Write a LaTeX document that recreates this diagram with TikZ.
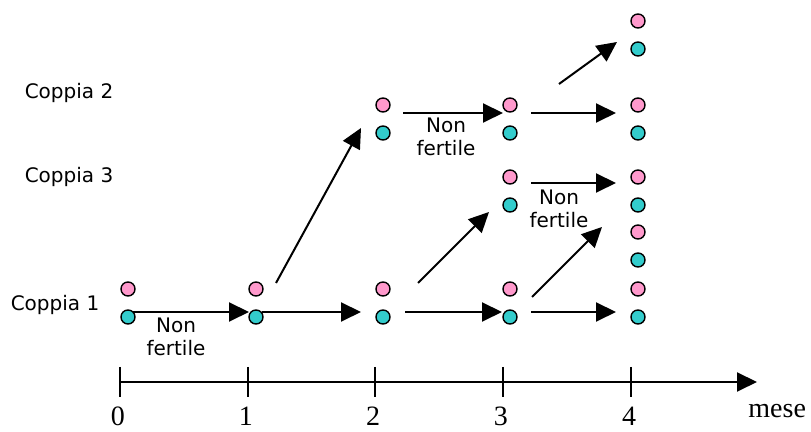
\documentclass[tikz,border=0pt]{standalone}
\usepackage{fontspec}
\setmainfont{Liberation Serif}
\setsansfont{DejaVu Sans}
\usetikzlibrary{arrows.meta}
\definecolor{bunnypink}{HTML}{FF99CC}
\definecolor{bunnyteal}{HTML}{33CCCC}
\tikzset{
  arr/.style={-{Triangle[length=10pt,width=9.5pt]}, line width=1pt},
  femdot/.style={circle, draw=black, line width=0.7pt, fill=bunnypink, minimum size=7pt, inner sep=0pt},
  maledot/.style={femdot, fill=bunnyteal},
  lbl/.style={font=\sffamily\fontsize{10}{11.5}\selectfont, align=center, inner sep=0pt},
  digit/.style={font=\rmfamily\fontsize{14}{16}\selectfont, inner sep=0pt},
}

\begin{document}
\begin{tikzpicture}[x=0.5pt, y=-0.5pt]
  \useasboundingbox (0,0) rectangle (811,432);

  % Couples (pink above, teal below)
  \foreach \nm/\cx/\cy in {c0a/128/289, c1a/256/289, c2a/383/289, c2b/383/105,
      c3a/510/289, c3b/510/105, c3c/510/177,
      c4a/638/289, c4b/638/232, c4c/638/177, c4d/638/105, c4e/638/21} {
    \node[femdot] (\nm p) at (\cx,\cy) {};
    \node[maledot] (\nm t) at (\cx,\cy+28) {};
  }

  % Row labels
  \node[lbl] (L1) at (55,305) {Coppia 1};
  \node[lbl] (L2) at (69,93) {Coppia 2};
  \node[lbl] (L3) at (69,177) {Coppia 3};
  \node[lbl] (N1) at (176,337) {Non\\fertile};
  \node[lbl] (N2) at (446,137) {Non\\fertile};
  \node[lbl] (N3) at (559,209) {Non\\fertile};

  % Arrow end points
  \coordinate (a01s) at (133,312); \coordinate (a01e) at (249,312);
  \coordinate (a12s) at (262,312); \coordinate (a12e) at (361,312);
  \coordinate (a23s) at (405,312); \coordinate (a23e) at (502,312);
  \coordinate (a34s) at (531,312); \coordinate (a34e) at (616,312);
  \coordinate (b23s) at (403,113); \coordinate (b23e) at (503,113);
  \coordinate (b34s) at (531,113); \coordinate (b34e) at (616,113);
  \coordinate (c34s) at (531,183); \coordinate (c34e) at (616,183);
  \coordinate (d12s) at (276,283); \coordinate (d12e) at (361,128);
  \coordinate (d23s) at (418,283); \coordinate (d23e) at (489,212);
  \coordinate (d34s) at (532,297); \coordinate (d34e) at (602,227);
  \coordinate (e34s) at (559,84);  \coordinate (e34e) at (617,42);

  \draw[arr] (a01s) -- (a01e);
  \draw[arr] (a12s) -- (a12e);
  \draw[arr] (a23s) -- (a23e);
  \draw[arr] (a34s) -- (a34e);
  \draw[arr] (b23s) -- (b23e);
  \draw[arr] (b34s) -- (b34e);
  \draw[arr] (c34s) -- (c34e);
  \draw[arr] (d12s) -- (d12e);
  \draw[arr] (d23s) -- (d23e);
  \draw[arr] (d34s) -- (d34e);
  \draw[arr] (e34s) -- (e34e);

  % Time axis
  \coordinate (axs) at (120,382);
  \coordinate (axe) at (757,382);
  \draw[arr] (axs) -- (axe);
  \foreach \k/\tx in {0/120, 1/248, 2/375, 3/503, 4/631} {
    \draw[line width=0.8pt] (\tx,367) -- (\tx,397);
    \node[digit, anchor=base] (m\k) at (\tx-2,426) {\k};
  }
  \node[digit, anchor=base west] (mese) at (748,418) {mese};
\end{tikzpicture}
\end{document}
